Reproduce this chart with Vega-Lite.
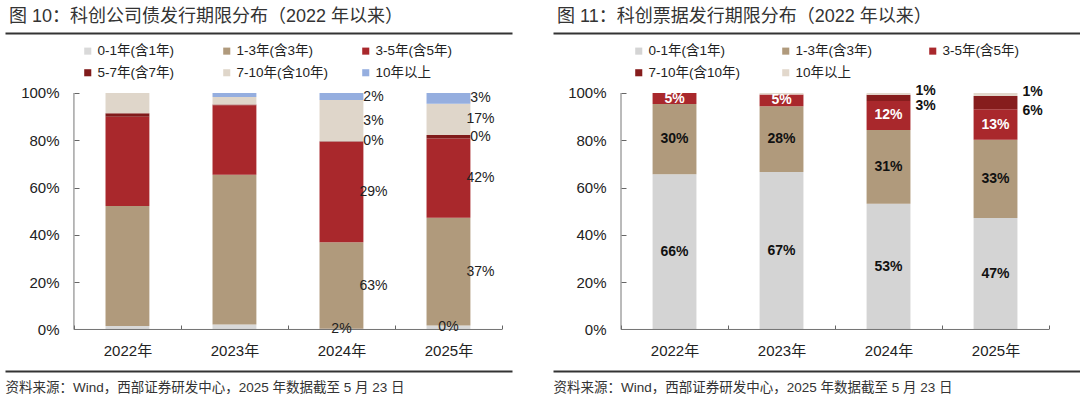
{
  "$schema": "https://vega.github.io/schema/vega-lite/v6.json",
  "padding": {"left": 5, "right": 0, "top": 8, "bottom": 0},
  "spacing": 41,
  "config": {
    "view": {"stroke": null},
    "axis": {"grid": false},
    "font": "Liberation Sans, Noto Sans CJK SC"
  },
  "datasets": {
    "bond": [
      {"year": "2022年", "seg": "0-1年(含1年)", "ord": 0, "value": 0.015, "label": ""},
      {"year": "2022年", "seg": "1-3年(含3年)", "ord": 1, "value": 0.507, "label": ""},
      {"year": "2022年", "seg": "3-5年(含5年)", "ord": 2, "value": 0.378, "label": ""},
      {"year": "2022年", "seg": "5-7年(含7年)", "ord": 3, "value": 0.014, "label": ""},
      {"year": "2022年", "seg": "7-10年(含10年)", "ord": 4, "value": 0.086, "label": ""},
      {"year": "2022年", "seg": "10年以上", "ord": 5, "value": 0.0, "label": ""},
      {"year": "2023年", "seg": "0-1年(含1年)", "ord": 0, "value": 0.021, "label": ""},
      {"year": "2023年", "seg": "1-3年(含3年)", "ord": 1, "value": 0.633, "label": ""},
      {"year": "2023年", "seg": "3-5年(含5年)", "ord": 2, "value": 0.294, "label": ""},
      {"year": "2023年", "seg": "5-7年(含7年)", "ord": 3, "value": 0.003, "label": ""},
      {"year": "2023年", "seg": "7-10年(含10年)", "ord": 4, "value": 0.032, "label": ""},
      {"year": "2023年", "seg": "10年以上", "ord": 5, "value": 0.017, "label": ""},
      {"year": "2024年", "seg": "0-1年(含1年)", "ord": 0, "value": 0.003, "label": "2%"},
      {"year": "2024年", "seg": "1-3年(含3年)", "ord": 1, "value": 0.366, "label": "63%"},
      {"year": "2024年", "seg": "3-5年(含5年)", "ord": 2, "value": 0.425, "label": "29%"},
      {"year": "2024年", "seg": "5-7年(含7年)", "ord": 3, "value": 0.002, "label": "0%"},
      {"year": "2024年", "seg": "7-10年(含10年)", "ord": 4, "value": 0.174, "label": "3%"},
      {"year": "2024年", "seg": "10年以上", "ord": 5, "value": 0.030, "label": "2%"},
      {"year": "2025年", "seg": "0-1年(含1年)", "ord": 0, "value": 0.017, "label": "0%"},
      {"year": "2025年", "seg": "1-3年(含3年)", "ord": 1, "value": 0.456, "label": "37%"},
      {"year": "2025年", "seg": "3-5年(含5年)", "ord": 2, "value": 0.335, "label": "42%"},
      {"year": "2025年", "seg": "5-7年(含7年)", "ord": 3, "value": 0.014, "label": "0%"},
      {"year": "2025年", "seg": "7-10年(含10年)", "ord": 4, "value": 0.133, "label": "17%"},
      {"year": "2025年", "seg": "10年以上", "ord": 5, "value": 0.045, "label": "3%"}
    ],
    "bill": [
      {"year": "2022年", "seg": "0-1年(含1年)", "ord": 0, "value": 0.656, "label": "66%"},
      {"year": "2022年", "seg": "1-3年(含3年)", "ord": 1, "value": 0.297, "label": "30%"},
      {"year": "2022年", "seg": "3-5年(含5年)", "ord": 2, "value": 0.047, "label": "5%"},
      {"year": "2022年", "seg": "7-10年(含10年)", "ord": 3, "value": 0.0, "label": ""},
      {"year": "2022年", "seg": "10年以上", "ord": 4, "value": 0.0, "label": ""},
      {"year": "2023年", "seg": "0-1年(含1年)", "ord": 0, "value": 0.666, "label": "67%"},
      {"year": "2023年", "seg": "1-3年(含3年)", "ord": 1, "value": 0.278, "label": "28%"},
      {"year": "2023年", "seg": "3-5年(含5年)", "ord": 2, "value": 0.050, "label": "5%"},
      {"year": "2023年", "seg": "7-10年(含10年)", "ord": 3, "value": 0.0, "label": ""},
      {"year": "2023年", "seg": "10年以上", "ord": 4, "value": 0.006, "label": ""},
      {"year": "2024年", "seg": "0-1年(含1年)", "ord": 0, "value": 0.532, "label": "53%"},
      {"year": "2024年", "seg": "1-3年(含3年)", "ord": 1, "value": 0.312, "label": "31%"},
      {"year": "2024年", "seg": "3-5年(含5年)", "ord": 2, "value": 0.122, "label": "12%"},
      {"year": "2024年", "seg": "7-10年(含10年)", "ord": 3, "value": 0.027, "label": "3%"},
      {"year": "2024年", "seg": "10年以上", "ord": 4, "value": 0.007, "label": "1%"},
      {"year": "2025年", "seg": "0-1年(含1年)", "ord": 0, "value": 0.471, "label": "47%"},
      {"year": "2025年", "seg": "1-3年(含3年)", "ord": 1, "value": 0.331, "label": "33%"},
      {"year": "2025年", "seg": "3-5年(含5年)", "ord": 2, "value": 0.129, "label": "13%"},
      {"year": "2025年", "seg": "7-10年(含10年)", "ord": 3, "value": 0.056, "label": "6%"},
      {"year": "2025年", "seg": "10年以上", "ord": 4, "value": 0.013, "label": "1%"}
    ]
  },
  "hconcat": [
    {
      "width": 507,
      "height": 338,
      "title": {"text": "图 10：科创公司债发行期限分布（2022 年以来）", "anchor": "start", "fontSize": 18, "fontWeight": "normal", "color": "#333", "offset": 7, "dx": 4},
      "data": {"name": "bond"},
      "layer": [
        {
          "mark": {"type": "bar", "width": {"band": 0.41}},
          "encoding": {
            "x": {"field": "year", "type": "nominal", "sort": null,
              "scale": {"paddingInner": 0, "paddingOuter": 0.369, "align": 0.873},
              "axis": {"orient": "bottom", "offset": -42, "title": null, "domain": false, "ticks": true, "tickBand": "extent", "tickSize": -4, "tickColor": "#666", "labelAngle": 0, "labelFontSize": 15, "labelColor": "#222", "labelPadding": 18}},
            "y": {"field": "value", "type": "quantitative", "stack": "zero",
              "scale": {"domain": [-0.1755, 1.2537], "nice": false, "zero": false},
              "axis": {"orient": "left", "offset": -69, "values": [0, 0.2, 0.4, 0.6, 0.8, 1], "format": ".0%", "domain": false, "tickSize": -5, "tickColor": "#666", "labelPadding": 20, "labelFontSize": 15, "labelColor": "#222", "title": null}},
            "color": {"field": "seg", "type": "nominal",
              "scale": {"domain": ["0-1年(含1年)", "1-3年(含3年)", "3-5年(含5年)", "5-7年(含7年)", "7-10年(含10年)", "10年以上"],
                        "range": ["#d9d9d9", "#b09a7c", "#a9282c", "#801b1b", "#dfd6ca", "#95aedf"]},
              "legend": {"orient": "none", "legendX": 76, "legendY": 11, "direction": "horizontal", "columns": 3, "title": null, "symbolType": "square", "symbolSize": 50, "symbolStrokeWidth": 0, "labelFontSize": 13.5, "labelColor": "#222", "columnPadding": 30, "rowPadding": 7, "gridAlign": "all", "labelOffset": 3}},
            "order": {"field": "ord", "type": "quantitative"}
          }
        },
        {
          "transform": [{"filter": "datum.ord === 0"}],
          "mark": {"type": "rect", "stroke": "#777", "strokeWidth": 1, "fillOpacity": 0},
          "encoding": {
            "x": {"field": "year", "type": "nominal", "sort": null,
              "axis": {"orient": "top", "title": null, "labels": false, "ticks": false, "domain": true, "domainColor": "#333", "domainWidth": 2}},
            "y": {"datum": 0},
            "y2": {"datum": 0}
          }
        },
        {
          "transform": [{"filter": "datum.ord === 0 && datum.year === '2022年'"}],
          "mark": {"type": "rule", "color": "#777", "strokeWidth": 1},
          "encoding": {
            "x": {"datum": "2022年", "bandPosition": 0, "axis": null},
            "y": {"datum": 0},
            "y2": {"datum": 1}
          }
        },
        {
          "transform": [
            {"stack": "value", "groupby": ["year"], "sort": [{"field": "ord"}], "as": ["v0", "v1"]},
            {"calculate": "(datum.v0 + datum.v1) / 2", "as": "mid"},
            {"filter": "datum.label !== '' && datum.ord > 0"}
          ],
          "mark": {"type": "text", "dx": 32, "align": "center", "baseline": "middle", "fontSize": 14, "color": "#222"},
          "encoding": {
            "x": {"field": "year", "type": "nominal", "sort": null,
              "axis": {"orient": "bottom", "title": "资料来源：Wind，西部证券研发中心，2025 年数据截至 5 月 23 日", "labels": false, "ticks": false, "domain": true, "domainColor": "#333", "domainWidth": 2, "titleAnchor": "start", "titleAlign": "left", "titleFontSize": 13.5, "titleFontWeight": "normal", "titleColor": "#333", "titlePadding": 9, "titleFont": "Liberation Sans, Noto Sans CJK SC"}},
            "y": {"field": "mid", "type": "quantitative", "title": null},
            "text": {"field": "label"}
          }
        },
        {
          "transform": [
            {"stack": "value", "groupby": ["year"], "sort": [{"field": "ord"}], "as": ["v0", "v1"]},
            {"calculate": "(datum.v0 + datum.v1) / 2", "as": "mid"},
            {"filter": "datum.label !== '' && datum.ord === 0"}
          ],
          "mark": {"type": "text", "align": "center", "baseline": "middle", "fontSize": 14, "color": "#222"},
          "encoding": {
            "x": {"field": "year", "type": "nominal", "sort": null, "axis": null},
            "y": {"field": "mid", "type": "quantitative", "title": null},
            "text": {"field": "label"}
          }
        }
      ],
      "resolve": {"axis": {"x": "independent"}}
    },
    {
      "width": 527,
      "height": 338,
      "title": {"text": "图 11：科创票据发行期限分布（2022 年以来）", "anchor": "start", "fontSize": 18, "fontWeight": "normal", "color": "#333", "offset": 7, "dx": 4},
      "data": {"name": "bill"},
      "layer": [
        {
          "mark": {"type": "bar", "width": {"band": 0.41}},
          "encoding": {
            "x": {"field": "year", "type": "nominal", "sort": null,
              "scale": {"paddingInner": 0, "paddingOuter": 0.4626, "align": 0.687},
              "axis": {"orient": "bottom", "offset": -42, "title": null, "domain": false, "ticks": true, "tickBand": "extent", "tickSize": -4, "tickColor": "#666", "labelAngle": 0, "labelFontSize": 15, "labelColor": "#222", "labelPadding": 18}},
            "y": {"field": "value", "type": "quantitative", "stack": "zero",
              "scale": {"domain": [-0.1755, 1.2537], "nice": false, "zero": false},
              "axis": {"orient": "left", "offset": -68, "values": [0, 0.2, 0.4, 0.6, 0.8, 1], "format": ".0%", "domain": false, "tickSize": -5, "tickColor": "#666", "labelPadding": 20, "labelFontSize": 15, "labelColor": "#222", "title": null}},
            "color": {"field": "seg", "type": "nominal",
              "scale": {"domain": ["0-1年(含1年)", "1-3年(含3年)", "3-5年(含5年)", "7-10年(含10年)", "10年以上"],
                        "range": ["#d4d4d4", "#b09a7c", "#a9282c", "#861d1d", "#e2d8cc"]},
              "legend": {"orient": "none", "legendX": 79, "legendY": 11, "direction": "horizontal", "columns": 3, "title": null, "symbolType": "square", "symbolSize": 50, "symbolStrokeWidth": 0, "labelFontSize": 13.5, "labelColor": "#222", "columnPadding": 38, "rowPadding": 7, "gridAlign": "all", "labelOffset": 3}},
            "order": {"field": "ord", "type": "quantitative"}
          }
        },
        {
          "transform": [{"filter": "datum.ord === 0"}],
          "mark": {"type": "rect", "stroke": "#777", "strokeWidth": 1, "fillOpacity": 0},
          "encoding": {
            "x": {"field": "year", "type": "nominal", "sort": null,
              "axis": {"orient": "top", "title": null, "labels": false, "ticks": false, "domain": true, "domainColor": "#333", "domainWidth": 2}},
            "y": {"datum": 0},
            "y2": {"datum": 0}
          }
        },
        {
          "transform": [{"filter": "datum.ord === 0 && datum.year === '2022年'"}],
          "mark": {"type": "rule", "color": "#777", "strokeWidth": 1},
          "encoding": {
            "x": {"datum": "2022年", "bandPosition": 0, "axis": null},
            "y": {"datum": 0},
            "y2": {"datum": 1}
          }
        },
        {
          "transform": [
            {"stack": "value", "groupby": ["year"], "sort": [{"field": "ord"}], "as": ["v0", "v1"]},
            {"calculate": "(datum.v0 + datum.v1) / 2", "as": "mid"},
            {"filter": "datum.label !== '' && datum.ord <= 2"}
          ],
          "mark": {"type": "text", "align": "center", "baseline": "middle", "fontSize": 14, "fontWeight": "bold"},
          "encoding": {
            "x": {"field": "year", "type": "nominal", "sort": null,
              "axis": {"orient": "bottom", "title": "资料来源：Wind，西部证券研发中心，2025 年数据截至 5 月 23 日", "labels": false, "ticks": false, "domain": true, "domainColor": "#333", "domainWidth": 2, "titleAnchor": "start", "titleAlign": "left", "titleFontSize": 13.5, "titleFontWeight": "normal", "titleColor": "#333", "titlePadding": 9, "titleFont": "Liberation Sans, Noto Sans CJK SC"}},
            "y": {"field": "mid", "type": "quantitative", "title": null},
            "text": {"field": "label"},
            "color": {"condition": {"test": "datum.ord === 2", "value": "#ffffff"}, "value": "#111111"}
          }
        },
        {
          "transform": [
            {"stack": "value", "groupby": ["year"], "sort": [{"field": "ord"}], "as": ["v0", "v1"]},
            {"calculate": "(datum.v0 + datum.v1) / 2", "as": "mid"},
            {"filter": "datum.label !== '' && datum.ord === 3"}
          ],
          "mark": {"type": "text", "align": "center", "baseline": "middle", "fontSize": 14, "fontWeight": "bold", "color": "#111", "dx": 37, "dy": 8},
          "encoding": {
            "x": {"field": "year", "type": "nominal", "sort": null, "axis": null},
            "y": {"field": "mid", "type": "quantitative", "title": null},
            "text": {"field": "label"}
          }
        },
        {
          "transform": [
            {"stack": "value", "groupby": ["year"], "sort": [{"field": "ord"}], "as": ["v0", "v1"]},
            {"calculate": "(datum.v0 + datum.v1) / 2", "as": "mid"},
            {"filter": "datum.label !== '' && datum.ord === 4"}
          ],
          "mark": {"type": "text", "align": "center", "baseline": "middle", "fontSize": 14, "fontWeight": "bold", "color": "#111", "dx": 37, "dy": -3},
          "encoding": {
            "x": {"field": "year", "type": "nominal", "sort": null, "axis": null},
            "y": {"field": "mid", "type": "quantitative", "title": null},
            "text": {"field": "label"}
          }
        }
      ],
      "resolve": {"axis": {"x": "independent"}}
    }
  ],
  "resolve": {"scale": {"color": "independent", "x": "independent", "y": "independent"}, "legend": {"color": "independent"}}
}
